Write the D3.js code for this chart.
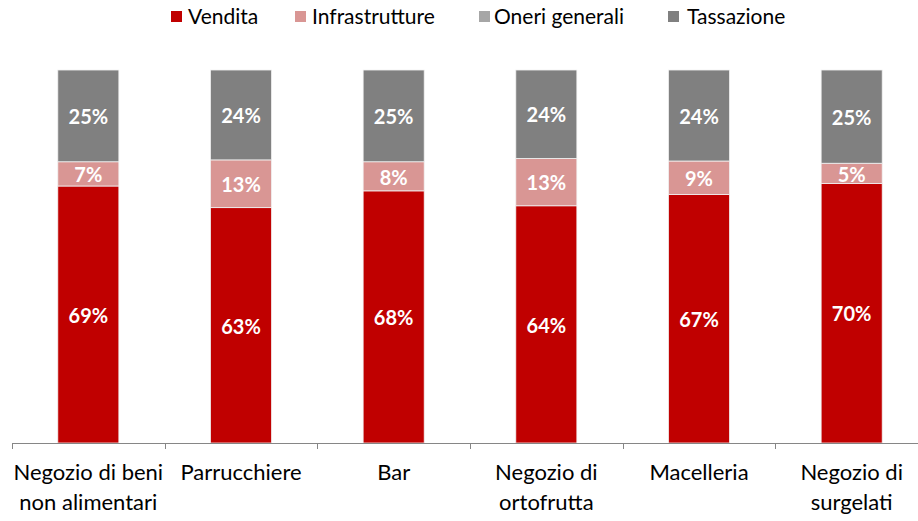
<!DOCTYPE html>
<html>
<head>
<meta charset="utf-8">
<script src="https://cdn.jsdelivr.net/npm/d3@7"></script>
<style>
  body { margin: 0; background: #fff; }
  svg { display: block; font-family: Lato, 'Open Sans', sans-serif; }
</style>
</head>
<body>
<div id="chart"></div>
<script>
// categories (two-line labels)
const categories = [
  ['Negozio di beni', 'non alimentari'],
  ['Parrucchiere'],
  ['Bar'],
  ['Negozio di', 'ortofrutta'],
  ['Macelleria'],
  ['Negozio di', 'surgelati']
];
const seriesNames = ['Vendita', 'Infrastrutture', 'Oneri generali', 'Tassazione'];
const vendita = [68.9, 63.1, 67.6, 63.6, 66.6, 69.6];
const infrastrutture = [6.5, 12.8, 7.8, 12.7, 9.0, 5.4];
const oneriGenerali = [0, 0, 0, 0, 0, 0];
const tassazione = [24.6, 24.1, 24.6, 23.7, 24.4, 25.0];
const colors = ['#c00000', '#d99694', '#a6a6a6', '#808080'];

const W = 918, H = 521;
const svg = d3.select('#chart').append('svg').attr('width', W).attr('height', H);

const rows = categories.map((c, i) => ({
  key: i,
  'Vendita': vendita[i],
  'Infrastrutture': infrastrutture[i],
  'Oneri generali': oneriGenerali[i],
  'Tassazione': tassazione[i]
}));

const stack = d3.stack().keys(seriesNames).offset(d3.stackOffsetExpand);
const stacked = stack(rows);

const x = d3.scaleBand().domain(d3.range(categories.length))
  .range([12, 928]).paddingInner(0.6).paddingOuter(0.3);
const y = d3.scaleLinear().domain([0, 1]).range([443, 70]);
const color = d3.scaleOrdinal().domain(seriesNames).range(colors);

// bars
const layers = svg.append('g').selectAll('g')
  .data(stacked).enter().append('g')
  .attr('fill', d => color(d.key));

layers.selectAll('rect')
  .data(d => d.filter(s => s[1] - s[0] > 0))
  .enter().append('rect')
  .attr('x', d => x(d.data.key))
  .attr('width', x.bandwidth())
  .attr('y', d => y(d[1]))
  .attr('height', d => y(d[0]) - y(d[1]))
  .attr('stroke', '#f2f2f2')
  .attr('stroke-width', 0.8);

// value labels
stacked.forEach(layer => {
  svg.append('g').selectAll('text')
    .data(layer.filter(s => s[1] - s[0] > 0))
    .enter().append('text')
    .attr('x', d => x(d.data.key) + x.bandwidth() / 2)
    .attr('y', d => (y(d[0]) + y(d[1])) / 2 + 1)
    .attr('dy', '0.36em')
    .attr('text-anchor', 'middle')
    .attr('fill', '#fff')
    .attr('font-weight', 'bold')
    .attr('font-size', 20)
    .text(d => Math.round(d.data[layer.key]) + '%');
});

// x axis
const step = x.step();
const axis = svg.append('g');
axis.append('line')
  .attr('x1', 12).attr('x2', W).attr('y1', 443.5).attr('y2', 443.5)
  .attr('stroke', '#868686').attr('stroke-width', 1);
axis.selectAll('.tick')
  .data(d3.range(categories.length + 1))
  .enter().append('line')
  .attr('x1', i => Math.round(12 + i * step) + 0.5)
  .attr('x2', i => Math.round(12 + i * step) + 0.5)
  .attr('y1', 443).attr('y2', 449)
  .attr('stroke', '#868686');

const labels = axis.selectAll('.cat')
  .data(categories).enter().append('text')
  .attr('text-anchor', 'middle')
  .attr('font-size', 22)
  .attr('fill', '#000');
labels.each(function (lines, i) {
  const t = d3.select(this);
  lines.forEach((ln, j) => {
    t.append('tspan')
      .attr('x', x(i) + x.bandwidth() / 2)
      .attr('y', 480 + j * 30)
      .text(ln);
  });
});

// legend
const legendX = [171, 295, 479, 668];
const legendTextX = [188, 312, 494, 687];
const legend = svg.append('g').selectAll('g')
  .data(seriesNames).enter().append('g');
legend.append('rect')
  .attr('x', (d, i) => legendX[i]).attr('y', 11).attr('width', 11).attr('height', 11)
  .attr('fill', d => color(d));
legend.append('text')
  .attr('x', (d, i) => legendTextX[i]).attr('y', 24)
  .attr('font-size', 21)
  .attr('fill', '#000')
  .text(d => d);
</script>
</body>
</html>
